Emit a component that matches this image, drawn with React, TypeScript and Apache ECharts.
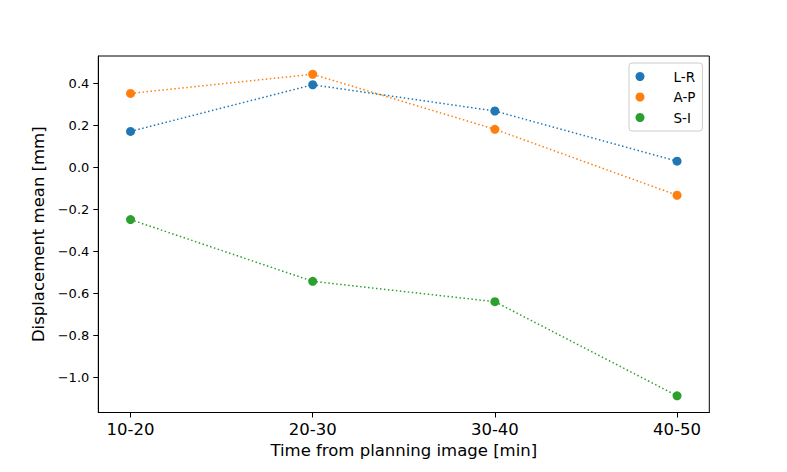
import React, { useEffect, useRef } from "react";
import * as echarts from "echarts";

const categories = ["10-20", "20-30", "30-40", "40-50"];
const seriesNames = ["L-R", "A-P", "S-I"];
const lrValues = [0.171, 0.393, 0.268, 0.029];
const apValues = [0.352, 0.443, 0.181, -0.133];
const siValues = [-0.249, -0.543, -0.64, -1.088];
const yTicks = [-1.0, -0.8, -0.6, -0.4, -0.2, 0.0, 0.2, 0.4];
const colors = ["#1f77b4", "#ff7f0e", "#2ca02c"];

const FONT = "DejaVu Sans";

export default function App() {
  const ref = useRef<HTMLDivElement>(null);
  useEffect(() => {
    if (!ref.current) return;
    const chart = echarts.init(ref.current, undefined, { renderer: "svg" });
    const allValues = [lrValues, apValues, siValues];
    const series = allValues.map((vals, si) => ({
      name: seriesNames[si],
      type: "line",
      data: vals.map((v, i) => [i, v]),
      symbol: "circle",
      symbolSize: 9,
      showSymbol: true,
      itemStyle: { color: colors[si], borderWidth: 0 },
      lineStyle: { color: colors[si], width: 1.5, type: [1.5, 2.5], cap: "butt" },
      emphasis: { disabled: true },
    }));
    chart.setOption({
      animation: false,
      textStyle: { fontFamily: FONT },
      grid: {
        left: 98.3,
        right: 77.7,
        top: 56,
        bottom: 59.5,
        show: true,
        borderColor: "#000",
        borderWidth: 1,
        backgroundColor: "#fff",
      },
      legend: {
        orient: "vertical",
        left: 629,
        top: 63,
        padding: [6.5, 7, 6.5, 6.5],
        itemGap: 6.5,
        itemWidth: 9,
        itemHeight: 9,
        icon: "circle",
        borderColor: "#cccccc",
        borderWidth: 1,
        borderRadius: 3,
        backgroundColor: "rgba(255,255,255,0.8)",
        formatter: "{t|{name}}",
        textStyle: {
          fontFamily: FONT,
          fontSize: 13.5,
          color: "#000",
          rich: {
            t: { fontFamily: FONT, fontSize: 13.5, color: "#000", lineHeight: 14, padding: [0, 0, 0, 24] },
          },
        },
        data: seriesNames,
      },
      xAxis: {
        type: "value",
        min: -0.177,
        max: 3.177,
        name: "Time from planning image [min]",
        nameLocation: "middle",
        nameGap: 28,
        nameTextStyle: { fontFamily: FONT, fontSize: 16.5, color: "#000" },
        axisLine: { show: true, onZero: false, lineStyle: { color: "#000", width: 1 } },
        axisTick: {
          show: true,
          length: 5,
          lineStyle: { color: "#000", width: 1 },
          customValues: categories.map((_, i) => i),
        },
        axisLabel: {
          show: true,
          margin: 8,
          fontFamily: FONT,
          fontSize: 16.5,
          color: "#000",
          customValues: categories.map((_, i) => i),
          formatter: (v: number) => categories[Math.round(v)] ?? "",
        },
        splitLine: { show: false },
      },
      yAxis: {
        type: "value",
        min: -1.1676,
        max: 0.53,
        name: "Displacement mean [mm]",
        nameLocation: "middle",
        nameGap: 48,
        nameRotate: 90,
        nameTextStyle: { fontFamily: FONT, fontSize: 16.5, color: "#000" },
        axisLine: { show: true, onZero: false, lineStyle: { color: "#000", width: 1 } },
        axisTick: {
          show: true,
          length: 5,
          lineStyle: { color: "#000", width: 1 },
          customValues: yTicks,
        },
        axisLabel: {
          show: true,
          margin: 9,
          fontFamily: FONT,
          fontSize: 13,
          color: "#000",
          customValues: yTicks,
          formatter: (v: number) => v.toFixed(1).replace("-", "\u2212"),
        },
        splitLine: { show: false },
      },
      series,
    });
    return () => chart.dispose();
  }, []);
  return (
    <div
      ref={ref}
      style={{ position: "absolute", left: 0, top: 0, width: 787, height: 472, background: "#fff" }}
    />
  );
}
